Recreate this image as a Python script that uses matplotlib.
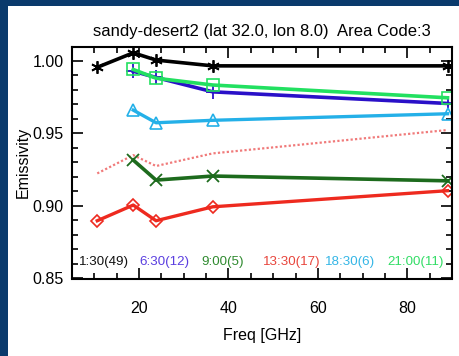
import matplotlib
matplotlib.use("Agg")
import matplotlib.pyplot as plt
from matplotlib.patches import Rectangle
from matplotlib.ticker import MultipleLocator, FormatStrFormatter

plt.rcParams['font.family'] = ['Liberation Sans', 'DejaVu Sans']

freq = [10.65, 18.7, 23.8, 36.5, 89.0]
freq_hi = [18.7, 23.8, 36.5, 89.0]

em_0130 = [0.9955, 1.0055, 1.0005, 0.9965, 0.9965]
em_0630 = [0.9928, 0.9885, 0.9786, 0.9706]
em_0900 = [0.9316, 0.9178, 0.9206, 0.9173]
em_1330 = [0.8898, 0.9006, 0.8898, 0.8994, 0.9105]
em_1830 = [0.9660, 0.9573, 0.9590, 0.9635]
em_2100 = [0.9940, 0.9880, 0.9833, 0.9745]
em_ref = [0.9224, 0.9350, 0.9275, 0.9362, 0.9523]

labels = ["1:30(49)", "6:30(12)", "9:00(5)", "13:30(17)", "18:30(6)", "21:00(11)"]
label_x = [12.2, 25.6, 38.7, 54.2, 67.2, 81.8]
label_colors = ["#111111", "#5a3ee0", "#2f8a2f", "#e8453c", "#35b6e6", "#33dd66"]

title = "sandy-desert2 (lat 32.0, lon 8.0)  Area Code:3"

fig = plt.figure(figsize=(4.6, 3.56), dpi=100)
fig.patch.set_facecolor("#0a3a6c")
fig.add_artist(Rectangle((8/460, 0), 1 - 8/460, 1 - 6/356, transform=fig.transFigure,
                         facecolor="white", edgecolor="none", zorder=0))

ax = fig.add_axes([72/460, 1 - 278.5/356, (452 - 72)/460, (278.5 - 47)/356])
ax.set_facecolor("white")

ax.plot(freq, em_ref, color="#f07a7a", lw=1.6, ls=(0, (1, 1)))
ax.plot(freq, em_0130, color="black", lw=2.6, marker=(6, 2, 0), ms=9, mew=1.3)
ax.plot(freq_hi, em_0630, color="#2a10c8", lw=2.6, marker="+", ms=10, mew=1.3)
ax.plot(freq_hi, em_0900, color="#1d6b1d", lw=2.6, marker="x", ms=8, mew=1.3)
ax.plot(freq, em_1330, color="#ee2a1f", lw=2.4, marker="D", ms=6, mfc="none", mew=1.2)
ax.plot(freq_hi, em_1830, color="#24b0e8", lw=2.4, marker="^", ms=8, mfc="none", mew=1.2)
ax.plot(freq_hi, em_2100, color="#22e060", lw=2.6, marker="s", ms=8, mfc="none", mew=1.2)

for t, x, c in zip(labels, label_x, label_colors):
    ax.text(x, 0.8615, t, color=c, ha="center", va="center", fontsize=9.6)

ax.set_xlim(5, 90)
ax.set_ylim(0.85, 1.0095)
ax.xaxis.set_major_locator(MultipleLocator(20))
ax.xaxis.set_minor_locator(MultipleLocator(5))
ax.yaxis.set_major_locator(MultipleLocator(0.05))
ax.yaxis.set_minor_locator(MultipleLocator(0.01))
ax.yaxis.set_major_formatter(FormatStrFormatter("%.2f"))
ax.tick_params(which="both", direction="in", top=True, right=True, labelsize=11.5, width=1.2)
ax.tick_params(which="major", length=8)
ax.tick_params(which="minor", length=4)
ax.tick_params(axis="x", which="major", pad=16)
ax.tick_params(axis="y", which="major", pad=6)
for s in ax.spines.values():
    s.set_linewidth(1.5)

ax.set_xlabel("Freq [GHz]", fontsize=11.5, labelpad=9)
ax.set_ylabel("Emissivity", fontsize=11.5, labelpad=1)
ax.set_title(title, fontsize=12, pad=8)

fig.savefig("out.png", dpi=100, facecolor=fig.get_facecolor())
